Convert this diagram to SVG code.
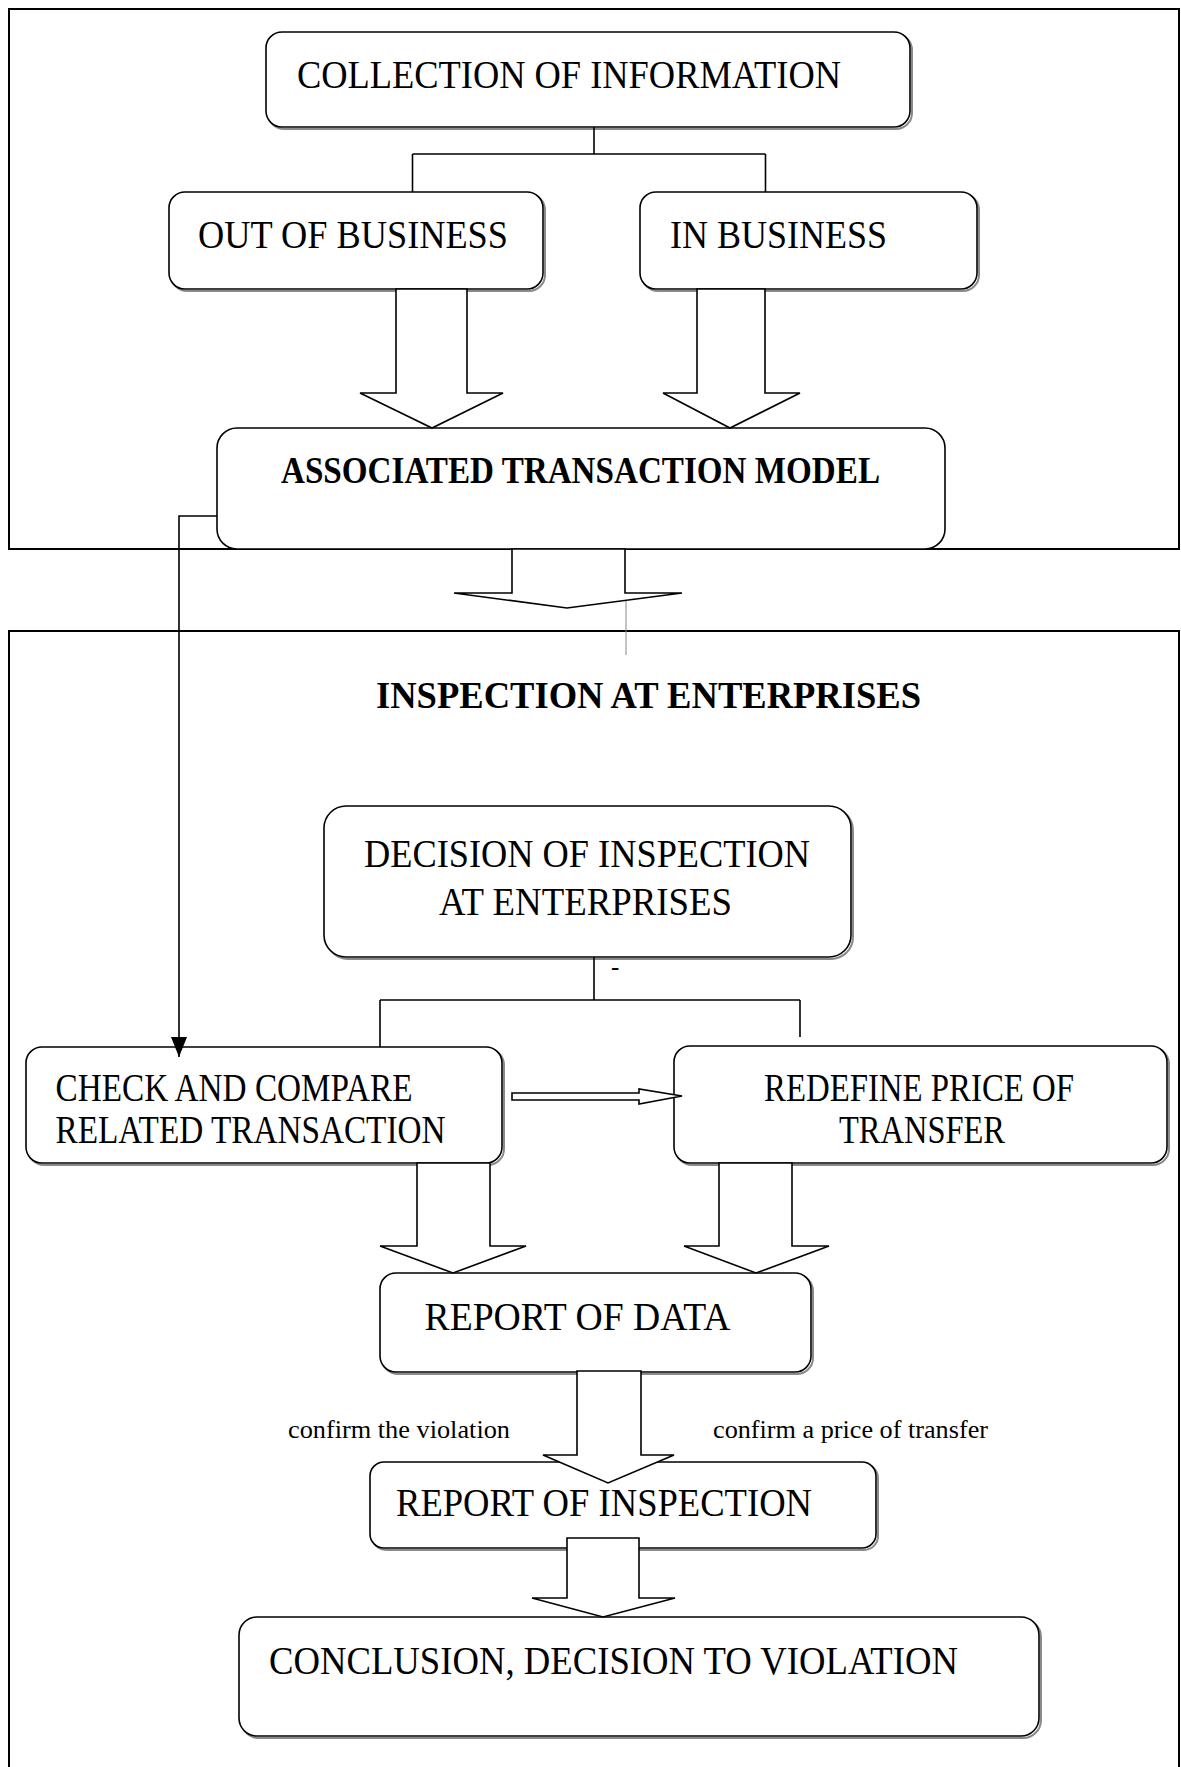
<svg xmlns="http://www.w3.org/2000/svg" width="1181" height="1767" viewBox="0 0 1181 1767">
<style>
.frame{fill:none;stroke:#000;stroke-width:2}
.box{fill:#fff;stroke:#000;stroke-width:1.6}
.shadow{fill:none;stroke:#8a8a8a;stroke-width:2}
.t{font-family:"Liberation Serif","Times New Roman",serif;font-size:39px;fill:#000}
.b{font-family:"Liberation Serif","Times New Roman",serif;font-size:37px;font-weight:bold;fill:#000}
.s{font-family:"Liberation Serif","Times New Roman",serif;font-size:25px;fill:#000}
.ln{fill:none;stroke:#000;stroke-width:1.6}
.blk{fill:#fff;stroke:#000;stroke-width:1.6;stroke-linejoin:miter}
</style>
<defs>
<marker id="ah" viewBox="0 0 20 16" markerWidth="20" markerHeight="16" refX="20" refY="8" orient="auto" markerUnits="userSpaceOnUse">
<path d="M0,0 L20,8 L0,16 Z" fill="#000"/>
</marker>
</defs>
<rect width="1181" height="1767" fill="#fff"/>
<g id="frames">
<rect class="frame" x="9" y="9" width="1170" height="540"/>
<path class="frame" d="M9,1767 V631 H1179 V1767"/>
</g>
<g id="collection">
<rect class="shadow" x="268" y="34" width="644" height="95" rx="16"/>
<rect class="box" x="266" y="32" width="644" height="95" rx="16"/>
<text class="t" x="297" y="88" textLength="544" lengthAdjust="spacingAndGlyphs">COLLECTION OF INFORMATION</text>
</g>
<g id="out-of-business">
<rect class="shadow" x="171" y="194" width="374" height="97" rx="16"/>
<rect class="box" x="169" y="192" width="374" height="97" rx="16"/>
<text class="t" x="198" y="248" textLength="310" lengthAdjust="spacingAndGlyphs">OUT OF BUSINESS</text>
</g>
<g id="in-business">
<rect class="shadow" x="642" y="194" width="337" height="97" rx="16"/>
<rect class="box" x="640" y="192" width="337" height="97" rx="16"/>
<text class="t" x="670" y="248" textLength="217" lengthAdjust="spacingAndGlyphs">IN BUSINESS</text>
</g>
<g id="associated">
<rect class="box" x="217" y="428" width="728" height="121" rx="20"/>
<text class="b" x="281" y="483" textLength="599" lengthAdjust="spacingAndGlyphs">ASSOCIATED TRANSACTION MODEL</text>
</g>
<g id="inspection-title">
<text class="b" x="376" y="708" font-size="40" textLength="545" lengthAdjust="spacingAndGlyphs">INSPECTION AT ENTERPRISES</text>
</g>
<g id="decision">
<rect class="shadow" x="326" y="808" width="527" height="151" rx="22"/>
<rect class="box" x="324" y="806" width="527" height="151" rx="22"/>
<text class="t" x="364" y="867" textLength="446" lengthAdjust="spacingAndGlyphs">DECISION OF INSPECTION</text>
<text class="t" x="439" y="915" textLength="293" lengthAdjust="spacingAndGlyphs">AT ENTERPRISES</text>
</g>
<g id="check">
<rect class="shadow" x="28" y="1049" width="476" height="116" rx="16"/>
<rect class="box" x="26" y="1047" width="476" height="116" rx="16"/>
<text class="t" x="55.5" y="1101" textLength="357" lengthAdjust="spacingAndGlyphs">CHECK AND COMPARE</text>
<text class="t" x="55.5" y="1143" textLength="390" lengthAdjust="spacingAndGlyphs">RELATED TRANSACTION</text>
</g>
<g id="redefine">
<rect class="shadow" x="676" y="1048" width="493" height="117" rx="16"/>
<rect class="box" x="674" y="1046" width="493" height="117" rx="16"/>
<text class="t" x="764" y="1101" textLength="310" lengthAdjust="spacingAndGlyphs">REDEFINE PRICE OF</text>
<text class="t" x="839" y="1143" textLength="166" lengthAdjust="spacingAndGlyphs">TRANSFER</text>
</g>
<g id="report-data">
<rect class="shadow" x="382" y="1275" width="431" height="99" rx="16"/>
<rect class="box" x="380" y="1273" width="431" height="99" rx="16"/>
<text class="t" x="424.5" y="1330" textLength="306" lengthAdjust="spacingAndGlyphs">REPORT OF DATA</text>
</g>
<g id="report-inspection">
<rect class="shadow" x="372" y="1464" width="506" height="86" rx="14"/>
<rect class="box" x="370" y="1462" width="506" height="86" rx="14"/>
<text class="t" x="396" y="1516" textLength="416" lengthAdjust="spacingAndGlyphs">REPORT OF INSPECTION</text>
</g>
<g id="conclusion">
<rect class="shadow" x="241" y="1619" width="800" height="119" rx="18"/>
<rect class="box" x="239" y="1617" width="800" height="119" rx="18"/>
<text class="t" x="269" y="1674" textLength="689" lengthAdjust="spacingAndGlyphs">CONCLUSION, DECISION TO VIOLATION</text>
</g>
<g id="connectors">
<path class="ln" d="M594,127 V154 M412.5,154 H765.5 M412.5,154 V192 M765.5,154 V192"/>
<path class="ln" d="M594,957 V1000 M380,1000 H800 M380,1000 V1047 M800,1000 V1037"/>
<path class="ln" d="M217,516 H179 V1057" marker-end="url(#ah)"/>
<path d="M626,600 V655" fill="none" stroke="#888" stroke-width="1"/>
<polygon class="blk" points="396,289 396,393 360,393 432,428 503,393 467,393 467,289"/>
<polygon class="blk" points="697,289 697,393 663,393 730,428 800,393 765,393 765,289"/>
<polygon class="blk" points="512,549 512,593 454,593 567,608 682,593 625,593 625,549"/>
<polygon class="blk" points="512,1093 639,1093 639,1089 682,1096 639,1104 639,1100 512,1100"/>
<polygon class="blk" points="417,1163 417,1246 380,1246 453,1273 526,1246 490,1246 490,1163"/>
<polygon class="blk" points="719,1163 719,1246 684,1246 756,1273 829,1246 792,1246 792,1163"/>
<polygon class="blk" points="577,1371 577,1455 543,1455 608,1483 674,1455 641,1455 641,1371"/>
<polygon class="blk" points="567,1538 567,1598 532,1598 603,1617 675,1598 639,1598 639,1538"/>
<text class="s" x="288" y="1438" textLength="222" lengthAdjust="spacingAndGlyphs">confirm the violation</text>
<text class="s" x="713" y="1438" textLength="275" lengthAdjust="spacingAndGlyphs">confirm a price of transfer</text>
<text class="s" x="611" y="975" font-size="20">-</text>
</g>
</svg>
